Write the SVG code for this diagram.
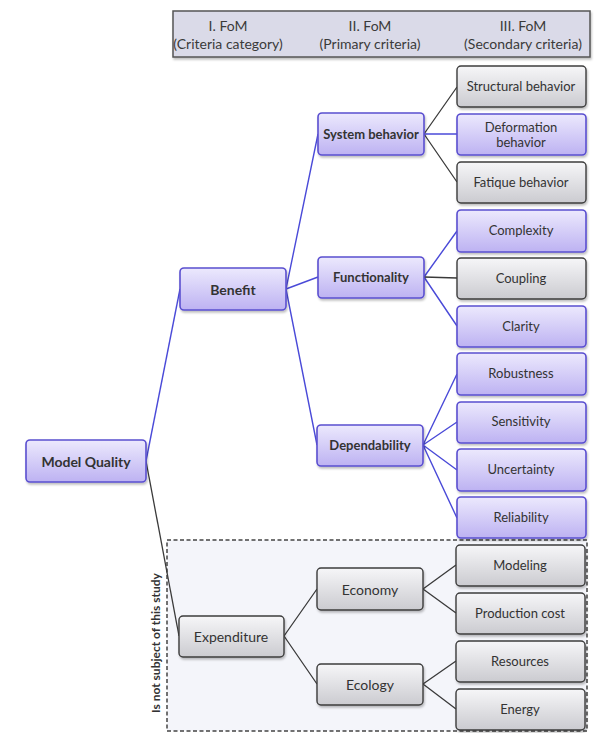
<svg xmlns="http://www.w3.org/2000/svg" width="595" height="733" viewBox="0 0 595 733">
<defs>
<linearGradient id="gp" x1="0" y1="0" x2="0" y2="1">
<stop offset="0" stop-color="#ece9fd"/>
<stop offset="1" stop-color="#bdb2f2"/>
</linearGradient>
<linearGradient id="gg" x1="0" y1="0" x2="0" y2="1">
<stop offset="0" stop-color="#f6f6f8"/>
<stop offset="1" stop-color="#cbcbd0"/>
</linearGradient>
<filter id="sh" x="-10%" y="-10%" width="130%" height="140%">
<feDropShadow dx="1" dy="2" stdDeviation="1.2" flood-color="#000" flood-opacity="0.25"/>
</filter>
<style>
text{font-family:Lato,"Open Sans","Liberation Sans",sans-serif;fill:#333;text-anchor:middle;dominant-baseline:central}
.p rect{fill:url(#gp);stroke:#5a4fd0;stroke-width:1.6}
.g rect{fill:url(#gg);stroke:#3c3c3c;stroke-width:1.4}
.b text{font-weight:bold;font-size:13px}
.n text{font-size:14px}
.r text{font-size:13px}
.hd text{font-size:14px;fill:#3a3a3a}
.cb{stroke:#4a4ad8;stroke-width:1.4;fill:none}
.cg{stroke:#3a3a3a;stroke-width:1.3;fill:none}
</style>
</defs>
<rect width="595" height="733" fill="#ffffff"/>
<g id="header" class="hd">
<rect x="173" y="11" width="417" height="46" fill="#dadae8" stroke="#555" stroke-width="1.5" filter="url(#sh)"/>
<text x="228" y="25">I. FoM</text>
<text x="228" y="43">(Criteria category)</text>
<text x="370" y="25">II. FoM</text>
<text x="370" y="43">(Primary criteria)</text>
<text x="523" y="25">III. FoM</text>
<text x="523" y="43">(Secondary criteria)</text>
</g>
<g id="scope">
<rect x="167" y="540" width="420" height="191" fill="#f4f5fa" stroke="#444" stroke-width="1.5" stroke-dasharray="4,2.5"/>
<text transform="translate(155,643) rotate(-90)" font-size="12" font-weight="bold" fill="#444">Is not subject of this study</text>
</g>
<g id="connectors">
<path class="cb" d="M146 461 L180 289"/>
<path class="cg" d="M146 461 L179 636"/>
<path class="cb" d="M286 289 L318 134 M286 289 L318 277 M286 289 L317 445"/>
<path class="cg" d="M424 134 L457 87 M424 134 L457 182"/>
<path class="cb" d="M424 134 L457 134"/>
<path class="cb" d="M424 277 L457 231 M424 277 L457 326"/>
<path class="cg" d="M424 277 L457 278"/>
<path class="cb" d="M423 445 L457 374 M423 445 L457 422 M423 445 L457 470 M423 445 L457 518"/>
<path class="cg" d="M284 636 L317 589 M284 636 L317 684"/>
<path class="cg" d="M423 589 L456 565 M423 589 L456 613"/>
<path class="cg" d="M423 684 L456 661 M423 684 L456 709"/>
</g>
<g id="model-quality" class="p b"><rect x="26" y="440" width="120" height="42" rx="4" filter="url(#sh)"/><text x="86" y="461" style="font-size:14px">Model Quality</text></g>
<g id="benefit" class="p b"><rect x="180" y="268" width="106" height="42" rx="4" filter="url(#sh)"/><text x="233" y="289" style="font-size:14px">Benefit</text></g>
<g id="expenditure" class="g n"><rect x="179" y="616" width="105" height="41" rx="4" filter="url(#sh)"/><text x="231" y="636">Expenditure</text></g>
<g id="system-behavior" class="p b"><rect x="318" y="113" width="106" height="42" rx="4" filter="url(#sh)"/><text x="371" y="134">System behavior</text></g>
<g id="functionality" class="p b"><rect x="318" y="257" width="106" height="41" rx="4" filter="url(#sh)"/><text x="371" y="277">Functionality</text></g>
<g id="dependability" class="p b"><rect x="317" y="425" width="106" height="41" rx="4" filter="url(#sh)"/><text x="370" y="445">Dependability</text></g>
<g id="economy" class="g n"><rect x="317" y="568" width="106" height="42" rx="4" filter="url(#sh)"/><text x="370" y="589">Economy</text></g>
<g id="ecology" class="g n"><rect x="317" y="664" width="106" height="41" rx="4" filter="url(#sh)"/><text x="370" y="684">Ecology</text></g>
<g id="structural-behavior" class="g r"><rect x="457" y="66" width="129" height="41" rx="4" filter="url(#sh)"/><text x="521" y="86">Structural behavior</text></g>
<g id="deformation-behavior" class="p r"><rect x="457" y="114" width="129" height="41" rx="4" filter="url(#sh)"/><text x="521" y="127">Deformation</text><text x="521" y="142">behavior</text></g>
<g id="fatique-behavior" class="g r"><rect x="457" y="162" width="129" height="41" rx="4" filter="url(#sh)"/><text x="521" y="182">Fatique behavior</text></g>
<g id="complexity" class="p r"><rect x="457" y="210" width="129" height="42" rx="4" filter="url(#sh)"/><text x="521" y="230">Complexity</text></g>
<g id="coupling" class="g r"><rect x="457" y="258" width="129" height="41" rx="4" filter="url(#sh)"/><text x="521" y="278">Coupling</text></g>
<g id="clarity" class="p r"><rect x="457" y="306" width="129" height="41" rx="4" filter="url(#sh)"/><text x="521" y="326">Clarity</text></g>
<g id="robustness" class="p r"><rect x="457" y="353" width="129" height="42" rx="4" filter="url(#sh)"/><text x="521" y="373">Robustness</text></g>
<g id="sensitivity" class="p r"><rect x="457" y="402" width="129" height="41" rx="4" filter="url(#sh)"/><text x="521" y="421">Sensitivity</text></g>
<g id="uncertainty" class="p r"><rect x="457" y="449" width="129" height="42" rx="4" filter="url(#sh)"/><text x="521" y="469">Uncertainty</text></g>
<g id="reliability" class="p r"><rect x="457" y="497" width="129" height="41" rx="4" filter="url(#sh)"/><text x="521" y="517">Reliability</text></g>
<g id="modeling" class="g r"><rect x="456" y="545" width="129" height="41" rx="4" filter="url(#sh)"/><text x="520" y="565">Modeling</text></g>
<g id="production-cost" class="g r"><rect x="456" y="593" width="129" height="41" rx="4" filter="url(#sh)"/><text x="520" y="613">Production cost</text></g>
<g id="resources" class="g r"><rect x="456" y="641" width="129" height="41" rx="4" filter="url(#sh)"/><text x="520" y="661">Resources</text></g>
<g id="energy" class="g r"><rect x="456" y="689" width="129" height="41" rx="4" filter="url(#sh)"/><text x="520" y="709">Energy</text></g>
</svg>
